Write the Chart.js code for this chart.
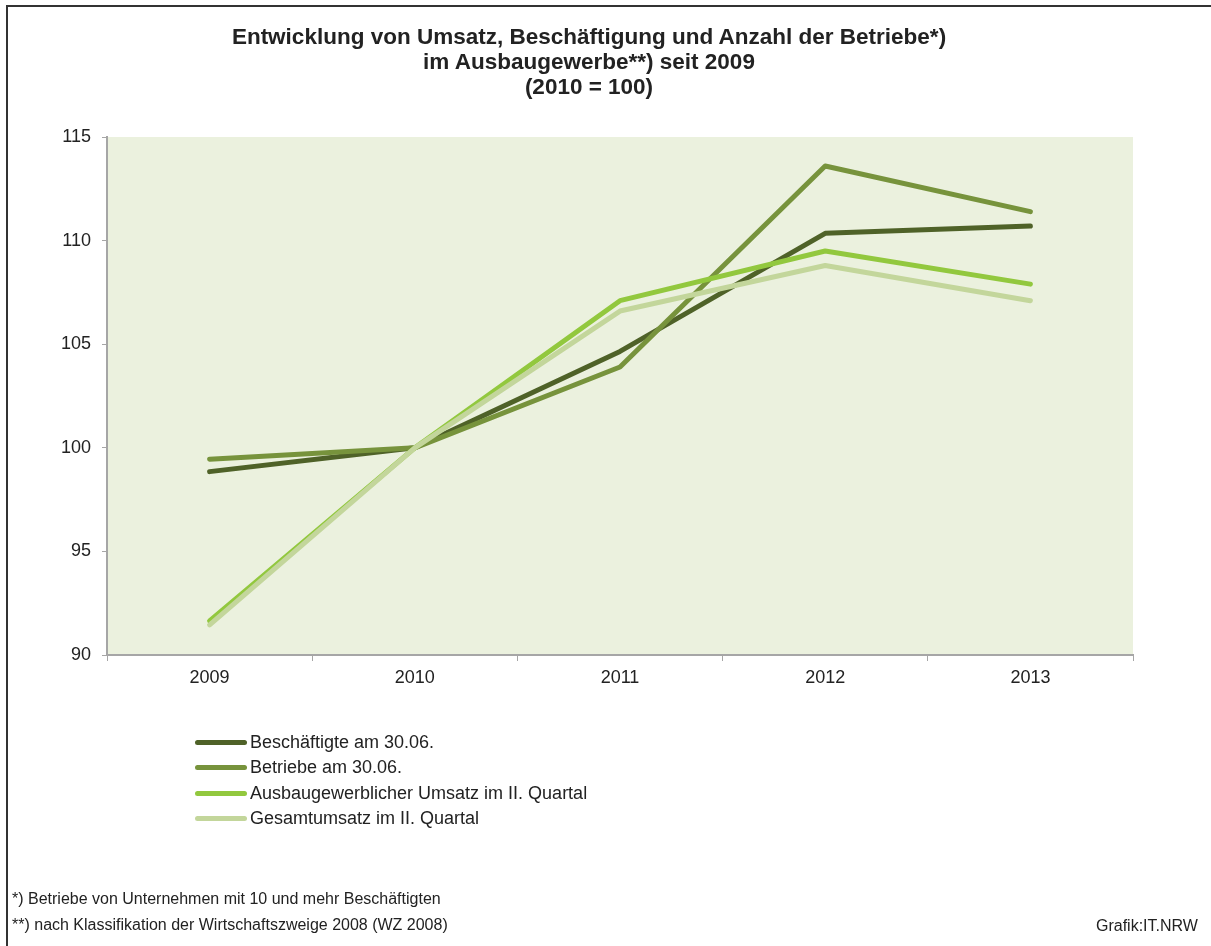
<!DOCTYPE html>
<html>
<head>
<meta charset="utf-8">
<script src="https://cdn.jsdelivr.net/npm/chart.js@4"></script>
<style>
  body { margin: 0; background: #fff; font-family: "Liberation Sans", Arial, sans-serif; color: #222; }
  #wrap { position: relative; width: 1211px; height: 946px; overflow: hidden; }
  #frame { position: absolute; left: 6px; top: 5px; width: 1300px; height: 1000px; border: 2px solid #333; box-sizing: border-box; }
  canvas { position: absolute; left: 0; top: 0; }
  .title { position: absolute; left: 0; width: 1178px; top: 24px; text-align: center; font-weight: bold; font-size: 22.5px; line-height: 25px; color: #222; }
  #legend { position: absolute; left: 195px; top: 730px; }
  .item { height: 25.3px; display: flex; align-items: center; font-size: 18px; color: #222; }
  .swatch { width: 52px; height: 5px; border-radius: 3px; margin-right: 3px; }
  .note { position: absolute; font-size: 16px; line-height: 20px; color: #222; }
</style>
</head>
<body>
<div id="wrap">
  <div id="frame"></div>
  <canvas id="chart" width="1211" height="946"></canvas>
  <div class="title">Entwicklung von Umsatz, Beschäftigung und Anzahl der Betriebe*)<br>im Ausbaugewerbe**) seit 2009<br>(2010 = 100)</div>
  <div id="legend"></div>
  <div class="note" style="left:12px; top:889px;">*) Betriebe von Unternehmen mit 10 und mehr Beschäftigten</div>
  <div class="note" style="left:12px; top:915px;">**) nach Klassifikation der Wirtschaftszweige 2008 (WZ 2008)</div>
  <div class="note" style="left:1096px; top:916px;">Grafik:IT.NRW</div>
</div>
<script>
const years = ['2009', '2010', '2011', '2012', '2013'];
const beschaeftigte = [98.85, 100, 104.65, 110.35, 110.7];
const betriebe = [99.45, 100, 103.9, 113.6, 111.4];
const ausbauUmsatz = [91.65, 100, 107.1, 109.5, 107.9];
const gesamtUmsatz = [91.45, 100, 106.6, 108.8, 107.1];

const seriesNames = ['Beschäftigte am 30.06.', 'Betriebe am 30.06.', 'Ausbaugewerblicher Umsatz im II. Quartal', 'Gesamtumsatz im II. Quartal'];
const seriesColors = ['#4f6228', '#77933c', '#92c83e', '#c3d69b'];
const seriesData = [beschaeftigte, betriebe, ausbauUmsatz, gesamtUmsatz];

// plot area background
const plotBg = {
  id: 'plotBg',
  beforeDraw(chart) {
    const { ctx, chartArea: a } = chart;
    ctx.save();
    ctx.fillStyle = '#ebf1de';
    ctx.fillRect(a.left, a.top, a.right - a.left, a.bottom - a.top);
    ctx.restore();
  }
};

// draw back to front so the dark line stays on top
const datasets = seriesData.map((d, i) => ({
  label: seriesNames[i],
  data: d,
  borderColor: seriesColors[i],
  backgroundColor: seriesColors[i],
  borderWidth: 5,
  borderCapStyle: 'round',
  borderJoinStyle: 'round',
  pointRadius: 0,
  tension: 0,
  order: 4 - i
}));

new Chart('chart', {
  type: 'line',
  data: { labels: years, datasets: datasets },
  plugins: [plotBg],
  options: {
    responsive: false,
    animation: false,
    layout: { padding: { left: 0, top: 137, right: 78, bottom: 251 } },
    plugins: { legend: { display: false }, tooltip: { enabled: false } },
    scales: {
      x: {
        offset: true,
        grid: { offset: true, drawOnChartArea: false, color: '#a6a6a6', tickLength: 6, lineWidth: 1 },
        border: { color: '#a6a6a6', width: 2 },
        ticks: { color: '#222', font: { family: 'Liberation Sans', size: 18 }, padding: 6 },
        afterFit(s) { s.height = 40; }
      },
      y: {
        min: 90, max: 115,
        grid: { drawOnChartArea: false, color: '#a6a6a6', tickLength: 5, lineWidth: 1 },
        border: { color: '#a6a6a6', width: 2 },
        ticks: { stepSize: 5, color: '#222', font: { family: 'Liberation Sans', size: 18 }, padding: 11 },
        afterFit(s) { s.width = 107; }
      }
    }
  }
});

// legend built from the same series
const legend = document.getElementById('legend');
seriesNames.forEach((name, i) => {
  const row = document.createElement('div');
  row.className = 'item';
  row.innerHTML = '<span class="swatch" style="background:' + seriesColors[i] + '"></span>' + name;
  legend.appendChild(row);
});
</script>
</body>
</html>
